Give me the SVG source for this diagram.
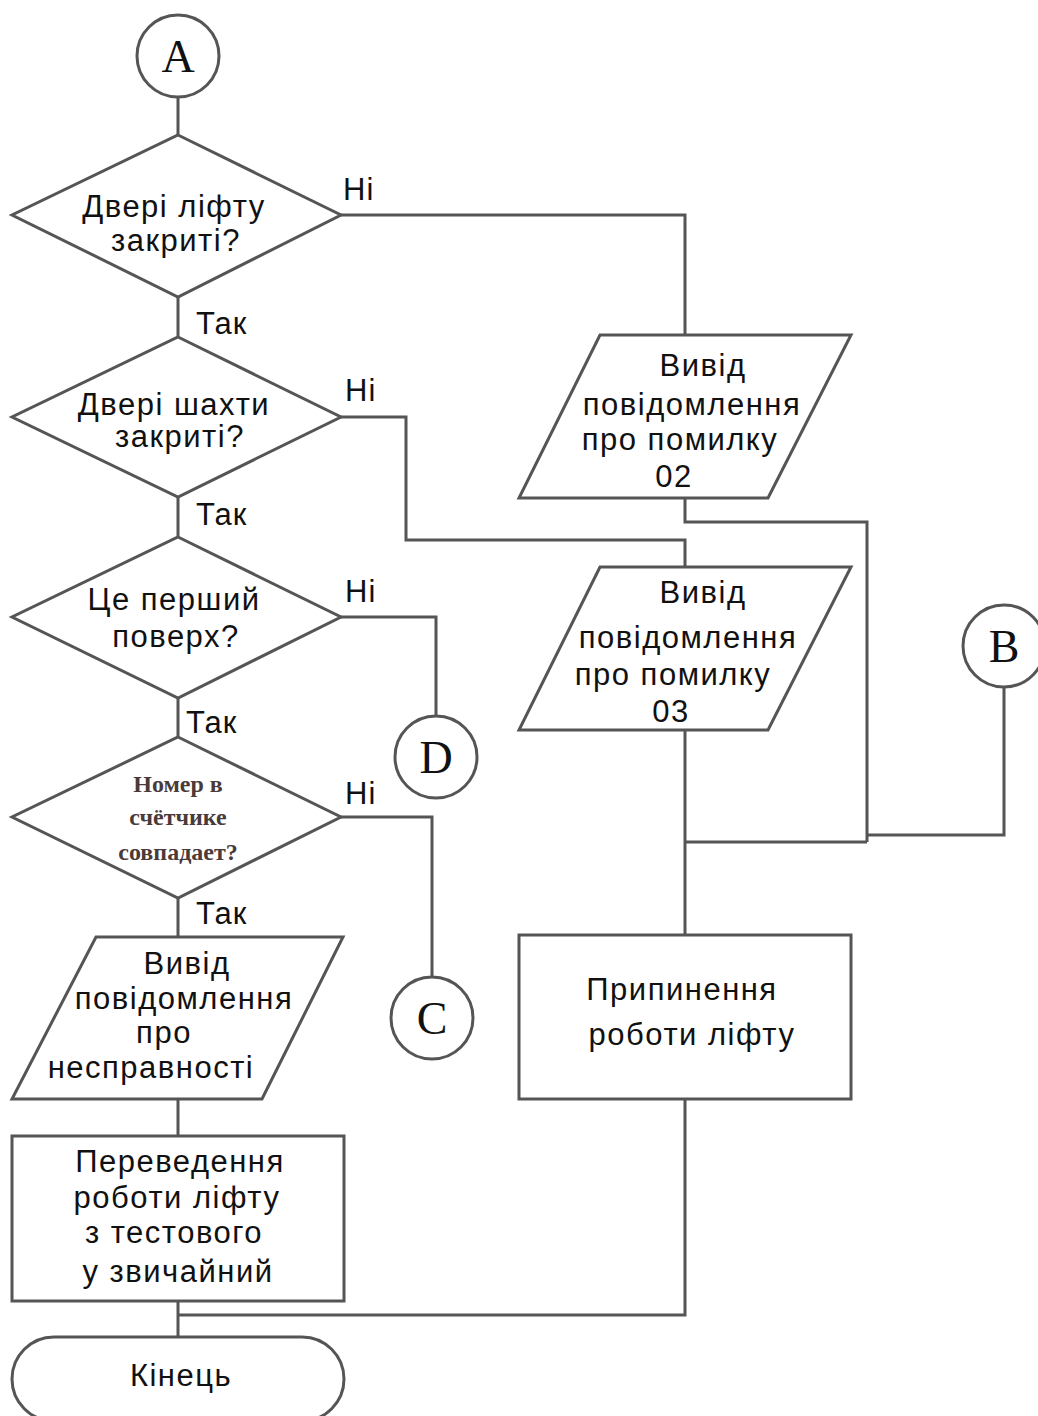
<svg xmlns="http://www.w3.org/2000/svg" width="1038" height="1416" viewBox="0 0 1038 1416">
<style>
.s{fill:#fff;stroke:#555;stroke-width:3}
.c{fill:none;stroke:#555;stroke-width:3}
.t{font-family:"Liberation Sans",Arial,sans-serif;font-size:31px;fill:#111;text-anchor:middle;letter-spacing:1.5px}
.l{font-family:"Liberation Sans",Arial,sans-serif;font-size:31px;fill:#111;letter-spacing:1px}
.k{font-family:"Liberation Serif","Times New Roman",serif;font-size:46px;fill:#111;text-anchor:middle}
.m{font-family:"Liberation Serif","Times New Roman",serif;font-size:24px;font-weight:bold;fill:#4a3a3a;text-anchor:middle}
</style>
<rect width="1038" height="1416" fill="#fff"/>
<g id="connectors">
<path class="c" d="M178 97V135"/>
<path class="c" d="M341 215H685V335"/>
<path class="c" d="M178 297V337"/>
<path class="c" d="M341 417H406V540H685V567"/>
<path class="c" d="M178 497V537"/>
<path class="c" d="M341 617H436V716"/>
<path class="c" d="M178 698V737"/>
<path class="c" d="M341 817H432V977"/>
<path class="c" d="M178 898V937"/>
<path class="c" d="M178 1099V1136"/>
<path class="c" d="M178 1301V1337"/>
<path class="c" d="M178 1315H685V1099"/>
<path class="c" d="M685 498V522H867V842"/>
<path class="c" d="M1004 687V835H867"/>
<path class="c" d="M685 730V935"/>
<path class="c" d="M685 842H867"/>
<text class="l" x="343" y="200">Ні</text>
<text class="l" x="196" y="334">Так</text>
<text class="l" x="345" y="401">Ні</text>
<text class="l" x="196" y="525">Так</text>
<text class="l" x="345" y="602">Ні</text>
<text class="l" x="186" y="733">Так</text>
<text class="l" x="345" y="804">Ні</text>
<text class="l" x="196" y="924">Так</text>
</g>
<g id="A"><circle class="s" cx="178" cy="56" r="41"/><text class="k" x="178" y="72">A</text></g>
<g id="d1"><path class="s" d="M178 135L341 215L178 297L12 215Z"/><text class="t" x="174" y="217">Двері ліфту</text><text class="t" x="176" y="251">закриті?</text></g>
<g id="d2"><path class="s" d="M178 337L341 417L178 497L12 417Z"/><text class="t" x="174" y="415">Двері шахти</text><text class="t" x="180" y="447">закриті?</text></g>
<g id="d3"><path class="s" d="M178 537L341 617L178 698L12 617Z"/><text class="t" x="174" y="610">Це перший</text><text class="t" x="176" y="647">поверх?</text></g>
<g id="d4"><path class="s" d="M178 737L341 817L178 898L12 817Z"/><text class="m" x="178" y="792">Номер в</text><text class="m" x="178" y="825">счётчике</text><text class="m" x="178" y="860">совпадает?</text></g>
<g id="p1"><path class="s" d="M600 335H851L768 498H519Z"/><text class="t" x="703" y="376">Вивід</text><text class="t" x="692" y="415">повідомлення</text><text class="t" x="680" y="450">про помилку</text><text class="t" x="674" y="487">02</text></g>
<g id="p2"><path class="s" d="M600 567H851L768 730H519Z"/><text class="t" x="703" y="603">Вивід</text><text class="t" x="688" y="648">повідомлення</text><text class="t" x="673" y="685">про помилку</text><text class="t" x="671" y="722">03</text></g>
<g id="B"><circle class="s" cx="1004" cy="646" r="41"/><text class="k" x="1004" y="662">B</text></g>
<g id="D"><circle class="s" cx="436" cy="757" r="41"/><text class="k" x="436" y="773">D</text></g>
<g id="C"><circle class="s" cx="432" cy="1018" r="41"/><text class="k" x="432" y="1034">C</text></g>
<g id="p3"><path class="s" d="M96 937H343L262 1099H12Z"/><text class="t" x="187" y="974">Вивід</text><text class="t" x="184" y="1009">повідомлення</text><text class="t" x="164" y="1043">про</text><text class="t" x="151" y="1078">несправності</text></g>
<g id="r1"><rect class="s" x="12" y="1136" width="332" height="165"/><text class="t" x="180" y="1172">Переведення</text><text class="t" x="177" y="1208">роботи ліфту</text><text class="t" x="174" y="1243">з тестового</text><text class="t" x="178" y="1282">у звичайний</text></g>
<g id="r2"><rect class="s" x="519" y="935" width="332" height="164"/><text class="t" x="682" y="1000">Припинення</text><text class="t" x="692" y="1045">роботи ліфту</text></g>
<g id="end"><rect class="s" x="12" y="1337" width="332" height="84" rx="42"/><text class="t" x="181" y="1386">Кінець</text></g>
</svg>
